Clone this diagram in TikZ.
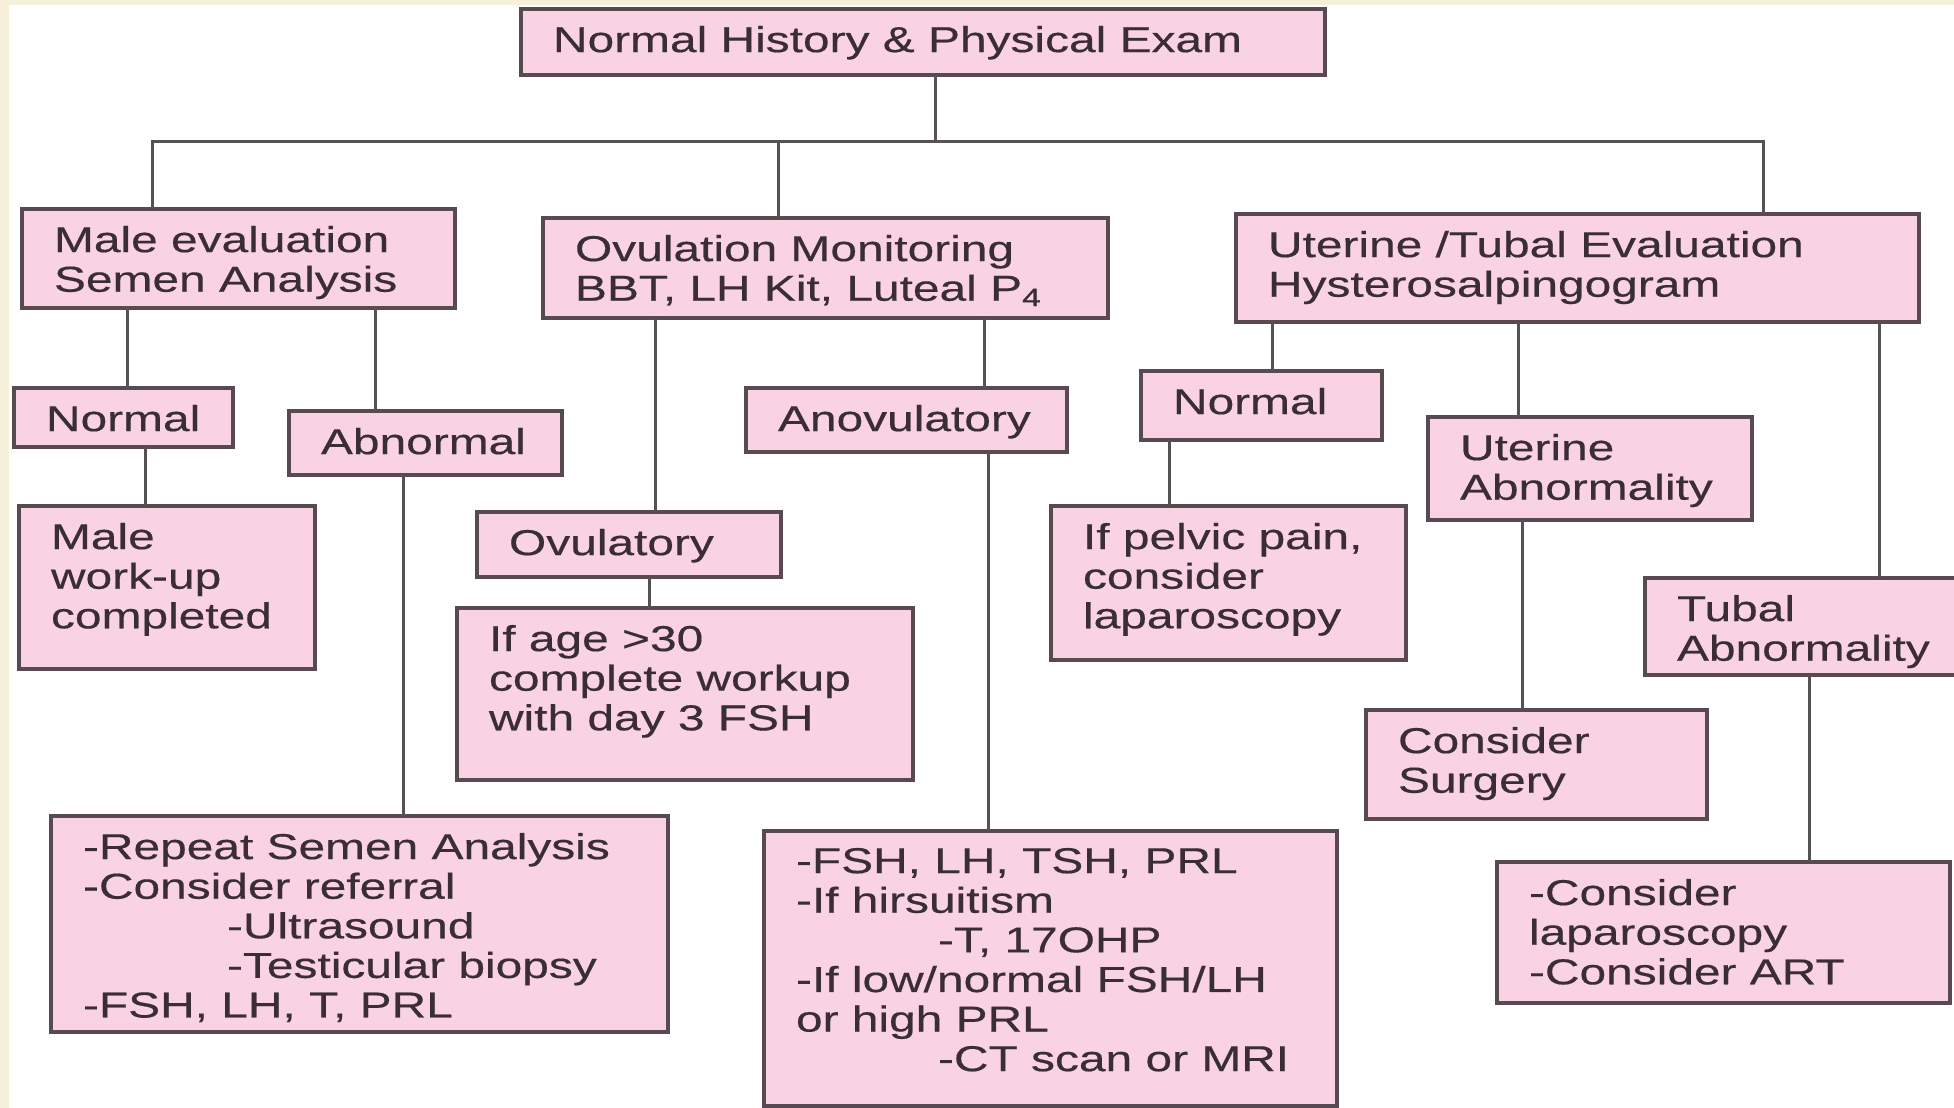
\documentclass[tikz,border=0pt]{standalone}
\usepackage{fontspec}
\setmainfont{Liberation Sans}[FakeStretch=1.33,FakeBold=0.4]
\usetikzlibrary{positioning}

\definecolor{boxfill}{RGB}{249,211,225}
\definecolor{boxline}{RGB}{88,74,82}
\definecolor{linkgray}{RGB}{86,82,84}
\definecolor{inkgray}{RGB}{58,46,52}
\definecolor{cream}{RGB}{247,241,219}

% width and height in pixels of the picture, then the text
\newcommand{\boxtxt}[3]{%
  \parbox[c][\dimexpr #2pt/2-17pt\relax][t]{\dimexpr #1pt/2\relax}{%
    \raggedright\leftskip=16pt #3}}

\begin{document}
\begin{tikzpicture}[
x=0.5pt, y=-0.5pt,
tbox/.style={
  draw=boxline,
  fill=boxfill,
  line width=1.7pt,
  anchor=north west,
  inner xsep=0pt,
  inner ysep=8.5pt,
  outer sep=0pt,
  text=inkgray,
  font=\fontsize{18}{19.8}\selectfont},
link/.style={
  draw=linkgray,
  line width=1.5pt}
]
\clip (0,0) rectangle (1954,1108);
\fill[white] (0,0) rectangle (1954,1108);
\fill[cream] (0,0) rectangle (1954,5);
\fill[cream] (0,0) rectangle (9,1108);

% first level
\node[tbox] (top) at (521,9) {\boxtxt{804}{66}{Normal History \& Physical Exam}};
\node[tbox] (male) at (22,209) {\boxtxt{433}{99}{Male evaluation\\Semen Analysis}};
\node[tbox] (ovul) at (543,218) {\boxtxt{565}{100}{Ovulation Monitoring\\BBT, LH Kit, Luteal P\textsubscript{4}}};
\node[tbox] (uter) at (1236,214) {\boxtxt{683}{108}{Uterine /Tubal Evaluation\\Hysterosalpingogram}};

% male side
\node[tbox] (normm) at (14,388) {\boxtxt{219}{59}{Normal}};
\node[tbox] (abnm) at (289,411) {\boxtxt{273}{64}{Abnormal}};
\node[tbox] (mwork) at (19,506) {\boxtxt{296}{163}{Male\\work-up\\completed}};
\node[tbox] (repeat) at (51,816) {\boxtxt{617}{216}{-Repeat Semen Analysis\\-Consider referral\\
  \hspace*{72pt}-Ultrasound\\\hspace*{72pt}-Testicular biopsy\\-FSH, LH, T, PRL}};

% ovulation side
\node[tbox] (ovy) at (477,512) {\boxtxt{304}{65}{Ovulatory}};
\node[tbox] (age) at (457,608) {\boxtxt{456}{172}{If age >30\\complete workup\\with day 3 FSH}};
\node[tbox] (anov) at (746,388) {\boxtxt{321}{64}{Anovulatory}};
\node[tbox] (anovb) at (764,831) {\boxtxt{573}{275}{-FSH, LH, TSH, PRL\\-If hirsuitism\\
  \hspace*{71pt}-T, 17OHP\\-If low/normal FSH/LH\\or high PRL\\\hspace*{71pt}-CT scan or MRI}};

% uterine side
\node[tbox] (normu) at (1141,371) {\boxtxt{241}{69}{Normal}};
\node[tbox] (pelvic) at (1051,506) {\boxtxt{355}{154}{If pelvic pain,\\consider\\laparoscopy}};
\node[tbox] (utabn) at (1428,417) {\boxtxt{324}{103}{Uterine\\Abnormality}};
\node[tbox] (surg) at (1366,710) {\boxtxt{341}{109}{Consider\\Surgery}};
\node[tbox] (tubal) at (1645,578) {\boxtxt{380}{97}{Tubal\\Abnormality}};
\node[tbox] (tubalb) at (1497,862) {\boxtxt{453}{141}{-Consider\\laparoscopy\\-Consider ART}};

% connectors
\coordinate (hub) at (935,141);
\coordinate (busL) at (152,141);
\coordinate (busM) at (778,141);
\coordinate (busR) at (1763,141);
\draw[link] (top.south -| hub) -- (hub);
\draw[link] (male.north -| busL) -- (busL) -- (busR) -- (uter.north -| busR);
\draw[link] (busM) -- (ovul.north -| busM);
\foreach \a/\b/\x in {male/normm/127, male/abnm/375, normm/mwork/145,
  abnm/repeat/403, ovul/ovy/655, ovul/anov/984, ovy/age/649,
  anov/anovb/988, uter/normu/1272, uter/utabn/1518, uter/tubal/1879,
  normu/pelvic/1169, utabn/surg/1522, tubal/tubalb/1809}
  \draw[link] (\a.south -| \x,0) -- (\b.north -| \x,0);
\end{tikzpicture}
\end{document}
